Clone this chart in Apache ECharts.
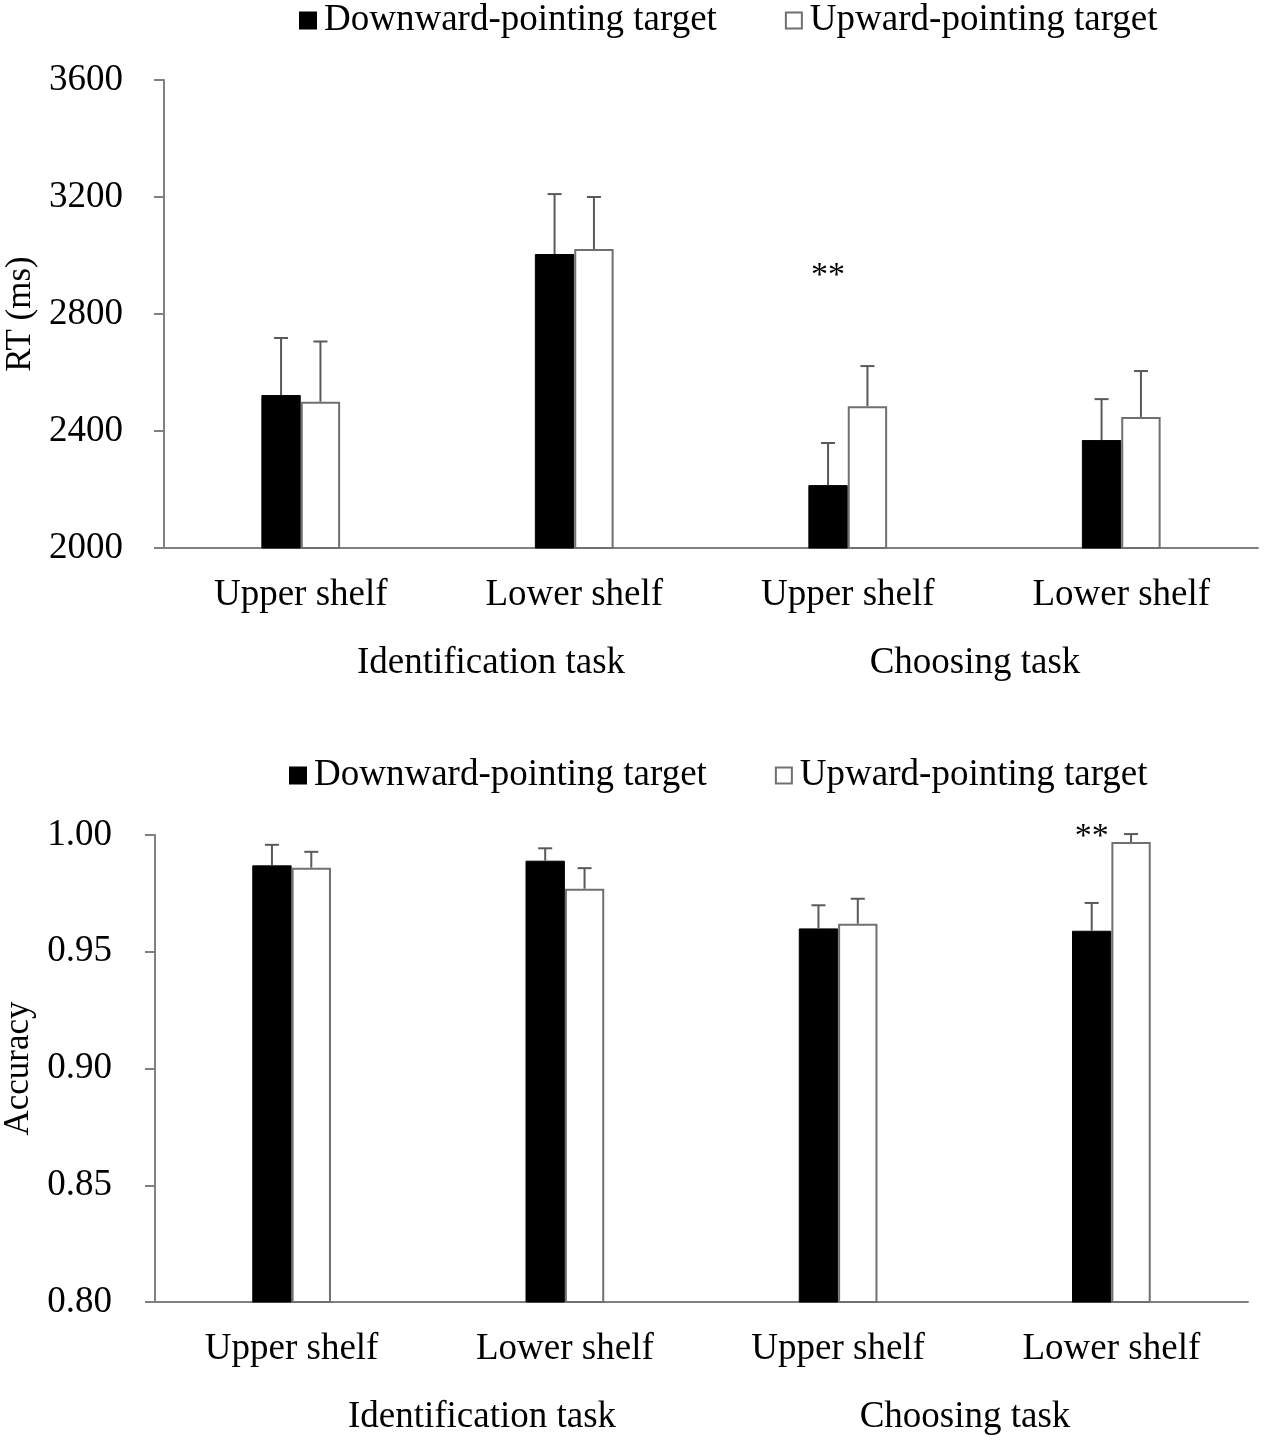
<!DOCTYPE html>
<html>
<head>
<meta charset="utf-8">
<script src="https://cdn.jsdelivr.net/npm/echarts@6/dist/echarts.min.js"></script>
<style>
html,body{margin:0;padding:0;background:#fff;}
#chart{width:1267px;height:1443px;}
</style>
</head>
<body>
<div id="chart"></div>
<script>
var categories = ['Upper shelf', 'Lower shelf', 'Upper shelf', 'Lower shelf'];
var taskLabels = ['Identification task', 'Choosing task'];
var seriesNames = ['Downward-pointing target', 'Upward-pointing target'];

var rtTicks = [2000, 2400, 2800, 3200, 3600];
var rtDown = [2523, 3005, 2215, 2369];
var rtDownSE = [195, 205, 144, 140];
var rtUp = [2500, 3022, 2485, 2448];
var rtUpSE = [206, 178, 137, 157];
var rtStars = [[2, 2930, '**']];

var accTicks = [0.80, 0.85, 0.90, 0.95, 1.00];
var accDown = [0.987, 0.989, 0.960, 0.959];
var accDownSE = [0.0088, 0.0053, 0.0099, 0.0119];
var accUp = [0.986, 0.977, 0.962, 0.997];
var accUpSE = [0.0068, 0.0088, 0.0107, 0.0034];
var accStars = [[3, 0.999, '**']];

var FONT = "'Liberation Serif','Times New Roman',serif";
var AXIS_COLOR = '#808080';
var ERR_COLOR = '#595959';
var BARW = 0.144;

function errData(vals, se) {
  return vals.map(function (v, i) { return [i, v, v + se[i]]; });
}

function errRender(side) {
  return function (params, api) {
    var x = api.value(0), v = api.value(1), e = api.value(2);
    var base = api.coord([x, v]);
    var top = api.coord([x, e]);
    var band = api.size([1, 0])[0];
    var cx = base[0] + side * band * BARW / 2;
    var st = { stroke: ERR_COLOR, lineWidth: 2 };
    return {
      type: 'group',
      children: [
        { type: 'line', shape: { x1: cx, y1: base[1], x2: cx, y2: top[1] }, style: st },
        { type: 'line', shape: { x1: cx - 7, y1: top[1], x2: cx + 7, y2: top[1] }, style: st }
      ]
    };
  };
}

function starRender(params, api) {
  var x = api.value(0), v = api.value(1);
  var p = api.coord([x, v]);
  var band = api.size([1, 0])[0];
  var cx = p[0] - band * BARW / 2;
  return {
    type: 'text',
    x: cx, y: p[1],
    style: {
      text: '**', fill: '#000', font: '34px ' + FONT,
      align: 'center', verticalAlign: 'middle'
    }
  };
}

function xAxisCfg(gi) {
  return {
    type: 'category', gridIndex: gi, data: categories,
    axisLine: { lineStyle: { color: AXIS_COLOR, width: 2 } },
    axisTick: { show: false },
    axisLabel: { color: '#000', fontFamily: FONT, fontSize: 37, margin: 29, interval: 0 },
    splitLine: { show: false }
  };
}

function yAxisCfg(gi, ticks, name, gap, fmt, margin) {
  return {
    type: 'value', gridIndex: gi,
    min: ticks[0], max: ticks[ticks.length - 1],
    interval: ticks[1] - ticks[0],
    name: name, nameLocation: 'middle', nameGap: gap,
    nameTextStyle: { color: '#000', fontFamily: FONT, fontSize: 35 },
    axisLine: { show: true, lineStyle: { color: AXIS_COLOR, width: 2 } },
    axisTick: { show: true, length: 10, lineStyle: { color: AXIS_COLOR, width: 2 } },
    axisLabel: { color: '#000', fontFamily: FONT, fontSize: 37, margin: margin, formatter: fmt },
    splitLine: { show: false }
  };
}

function legendCfg(left, top) {
  return {
    left: left, top: top, padding: 0,
    itemWidth: 16, itemHeight: 16, itemGap: 68,
    icon: 'rect',
    data: seriesNames,
    textStyle: { color: '#000', fontFamily: FONT, fontSize: 37, padding: [0, 0, 0, 3] },
    selectedMode: false
  };
}

var chart = echarts.init(document.getElementById('chart'), null, { renderer: 'canvas' });

function barSeries(name, data, xi, dark) {
  return {
    name: name, type: 'bar', xAxisIndex: xi, yAxisIndex: xi,
    data: data, barWidth: (BARW * 100) + '%', barGap: '0%',
    itemStyle: dark ? { color: '#000', borderColor: '#000', borderWidth: 1 }
                    : { color: '#fff', borderColor: '#707070', borderWidth: 2 },
    emphasis: { disabled: true },
    z: 2
  };
}

function errSeries(vals, se, xi, side) {
  return {
    type: 'custom', xAxisIndex: xi, yAxisIndex: xi,
    data: errData(vals, se), renderItem: errRender(side),
    clip: false, z: 3, silent: true
  };
}

function starSeries(data, xi) {
  return {
    type: 'custom', xAxisIndex: xi, yAxisIndex: xi,
    data: data, renderItem: starRender, clip: false, z: 4, silent: true
  };
}

var option = {
  backgroundColor: '#fff',
  animation: false,
  legend: [legendCfg(299, 2), legendCfg(289, 757)],
  grid: [
    { left: 164, right: 9, top: 80, height: 468, outerBoundsMode: 'none', containLabel: false },
    { left: 155, right: 19, top: 835, height: 467, outerBoundsMode: 'none', containLabel: false }
  ],
  xAxis: [xAxisCfg(0), xAxisCfg(1)],
  yAxis: [
    yAxisCfg(0, rtTicks, 'RT (ms)', 126, function (v) { return String(v); }, 41),
    yAxisCfg(1, accTicks, 'Accuracy', 118, function (v) { return v.toFixed(2); }, 43)
  ],
  graphic: [
    { type: 'text', x: 491, y: 663, style: { text: taskLabels[0], fill: '#000', font: '37px ' + FONT, align: 'center', verticalAlign: 'middle' } },
    { type: 'text', x: 975, y: 663, style: { text: taskLabels[1], fill: '#000', font: '37px ' + FONT, align: 'center', verticalAlign: 'middle' } },
    { type: 'text', x: 482, y: 1417, style: { text: taskLabels[0], fill: '#000', font: '37px ' + FONT, align: 'center', verticalAlign: 'middle' } },
    { type: 'text', x: 965, y: 1417, style: { text: taskLabels[1], fill: '#000', font: '37px ' + FONT, align: 'center', verticalAlign: 'middle' } }
  ],
  series: [
    barSeries(seriesNames[0], rtDown, 0, true),
    barSeries(seriesNames[1], rtUp, 0, false),
    errSeries(rtDown, rtDownSE, 0, -1),
    errSeries(rtUp, rtUpSE, 0, 1),
    starSeries(rtStars, 0),
    barSeries(seriesNames[0], accDown, 1, true),
    barSeries(seriesNames[1], accUp, 1, false),
    errSeries(accDown, accDownSE, 1, -1),
    errSeries(accUp, accUpSE, 1, 1),
    starSeries(accStars, 1)
  ]
};
chart.setOption(option);
</script>
</body>
</html>
